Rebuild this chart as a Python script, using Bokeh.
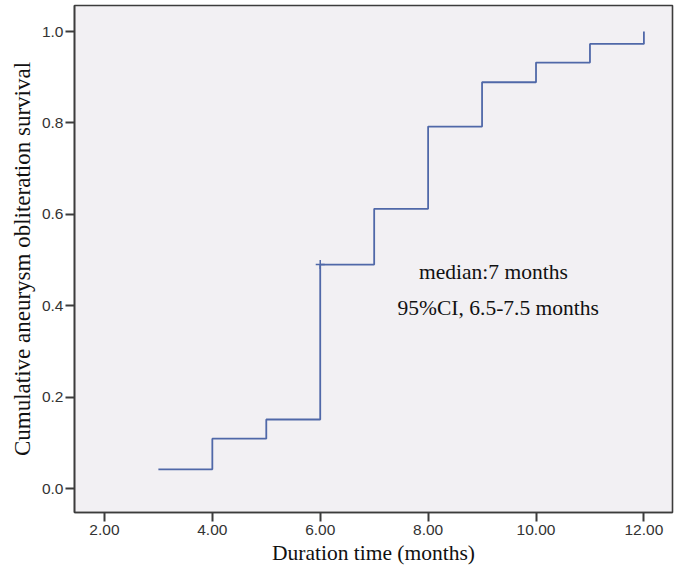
from bokeh.plotting import figure
from bokeh.models import Range1d, FixedTicker, NumeralTickFormatter, Label
from bokeh.embed import file_html
from bokeh.resources import INLINE

# Kaplan-Meier style cumulative obliteration curve
times = [3, 4, 5, 6, 7, 8, 9, 10, 11, 12]
cum_surv = [0.042, 0.109, 0.151, 0.490, 0.612, 0.792, 0.889, 0.932, 0.973, 1.0]
censor_t = [6]
censor_s = [0.490]
x_ticks = [2, 4, 6, 8, 10, 12]
y_ticks = [0.0, 0.2, 0.4, 0.6, 0.8, 1.0]
note_lines = ["median:7 months", "95%CI, 6.5-7.5 months"]

SERIF = "Liberation Serif"
SANS = "Liberation Sans"
LINE = "#5068A8"
DARK = "#3c3c3c"

p = figure(width=680, height=575, output_backend="svg", toolbar_location=None,
           x_range=Range1d(1.445, 12.53), y_range=Range1d(-0.0525, 1.057),
           min_border_left=74, min_border_right=8, min_border_top=5,
           min_border_bottom=63)

p.background_fill_color = "#F2F0F3"
p.border_fill_color = "white"
p.outline_line_color = DARK
p.outline_line_width = 1.6
p.xgrid.visible = False
p.ygrid.visible = False

p.step(x=times, y=cum_surv, mode="after", line_color=LINE, line_width=1.8)
p.scatter(x=censor_t, y=censor_s, marker="cross", size=9, line_color=LINE,
          line_width=1.5)

for ax in (p.xaxis[0], p.yaxis[0]):
    ax.axis_line_color = DARK
    ax.axis_line_width = 1.6
    ax.major_tick_line_color = DARK
    ax.major_tick_line_width = 2
    ax.major_tick_out = 9
    ax.major_tick_in = 0
    ax.minor_tick_line_color = None
    ax.major_label_text_font = SANS
    ax.major_label_text_font_size = "15.5px"
    ax.major_label_text_color = "#333333"
    ax.axis_label_text_font = SERIF
    ax.axis_label_text_font_style = "normal"
    ax.axis_label_text_color = "#111111"

p.xaxis.ticker = FixedTicker(ticks=x_ticks)
p.xaxis.formatter = NumeralTickFormatter(format="0.00")
p.yaxis.ticker = FixedTicker(ticks=y_ticks)
p.yaxis.formatter = NumeralTickFormatter(format="0.0")

p.xaxis.axis_label = "Duration time (months)"
p.xaxis.axis_label_text_font_size = "21.5px"
p.xaxis.major_label_standoff = 3
p.xaxis.axis_label_standoff = 3

p.yaxis.axis_label = "Cumulative aneurysm obliteration survival"
p.yaxis.axis_label_text_font_size = "23px"
p.yaxis.major_label_standoff = 2
p.yaxis.axis_label_standoff = 4

p.add_layout(Label(x=9.21, y=0.473, text=note_lines[0], text_align="center",
                   text_baseline="alphabetic", text_font=SERIF,
                   text_font_size="21.5px", text_color="#111111"))
p.add_layout(Label(x=9.30, y=0.394, text=note_lines[1], text_align="center",
                   text_baseline="alphabetic", text_font=SERIF,
                   text_font_size="21.5px", text_color="#111111"))

open("out.html", "w").write(file_html(p, INLINE))
